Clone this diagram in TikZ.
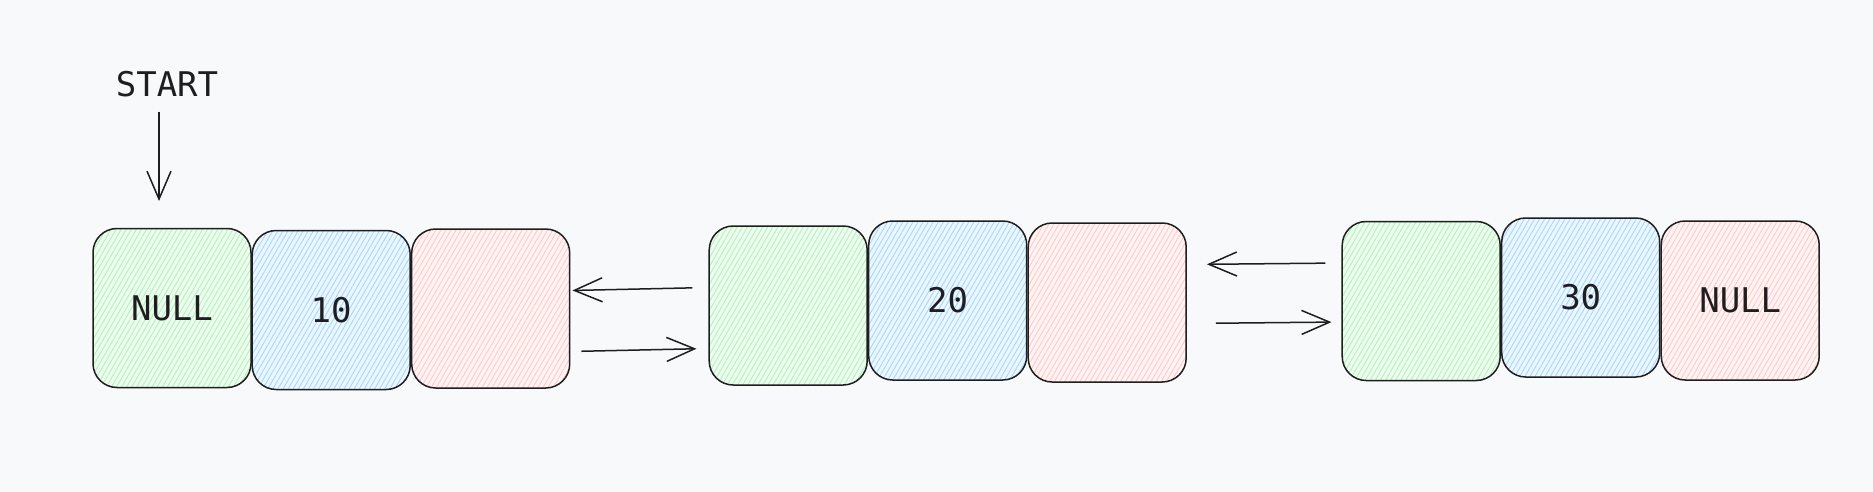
\documentclass[tikz,border=0pt]{standalone}
\usepackage{fontspec}
\newfontfamily\cellfont{DejaVu Sans Mono}
\usepackage{tikz}
\usetikzlibrary{positioning,arrows.meta,patterns.meta}
\definecolor{ink}{HTML}{1E1E1E}
\definecolor{paper}{HTML}{F8F9FA}
\definecolor{greenhatch}{HTML}{B2F2BB}
\definecolor{bluehatch}{HTML}{A5D8FF}
\definecolor{redhatch}{HTML}{FFC9C9}

\begin{document}
\begin{tikzpicture}[x=0.5pt,y=-0.5pt,>={Straight Barb[length=14pt,width=12pt]},line width=0.75pt,color=ink,font=\cellfont\fontsize{17}{20}\selectfont]
\tikzstyle{cell}=[draw=ink,rounded corners=12pt,minimum width=79pt,minimum height=79.5pt,inner sep=0pt,pattern={Lines[angle=60,distance=2.2pt,line width=0.45pt]}]
\tikzstyle{prevcell}=[cell,preaction={fill=greenhatch!22},pattern color=greenhatch]
\tikzstyle{valcell}=[cell,preaction={fill=bluehatch!22},pattern color=bluehatch]
\tikzstyle{nextcell}=[cell,preaction={fill=redhatch!22},pattern color=redhatch]
\fill[paper] (0,0) rectangle (1873,492);
\node[inner sep=0pt] (start) at (167,84) {START};
\node[prevcell] (p1) at (172,308) {NULL};
\node[valcell] (v1) [right=0pt of p1,yshift=-1pt] {10};
\node[nextcell] (n1) [right=0pt of v1,yshift=0.75pt] {};
\node[prevcell] (p2) [right=69pt of n1,yshift=1.5pt] {};
\node[valcell] (v2) [right=0pt of p2,yshift=2.5pt] {20};
\node[nextcell] (n2) [right=0pt of v2,yshift=-1pt] {};
\node[prevcell] (p3) [right=77.25pt of n2,yshift=0.75pt] {};
\node[valcell] (v3) [right=0pt of p3,yshift=1.75pt] {30};
\node[nextcell] (n3) [right=0pt of v3,yshift=-1.5pt] {NULL};
\coordinate (tail) at ([xshift=-4pt]start.south);
\draw[->,shorten <=7pt,shorten >=13.5pt] (tail) -- (tail |- p1.north);
\draw[->,shorten <=8pt,shorten >=1pt] ([yshift=9pt]p2.west) -- ([yshift=9pt]n1.east);
\draw[->,shorten <=5.5pt,shorten >=6pt] ([yshift=-21.5pt]n1.east) -- ([yshift=-21.5pt]p2.west);
\draw[->,shorten <=8pt,shorten >=10pt] ([yshift=19pt]p3.west) -- ([yshift=19pt]n2.east);
\draw[->,shorten <=14.5pt,shorten >=5pt] ([yshift=-10.5pt]n2.east) -- ([yshift=-10.5pt]p3.west);
\end{tikzpicture}
\end{document}
